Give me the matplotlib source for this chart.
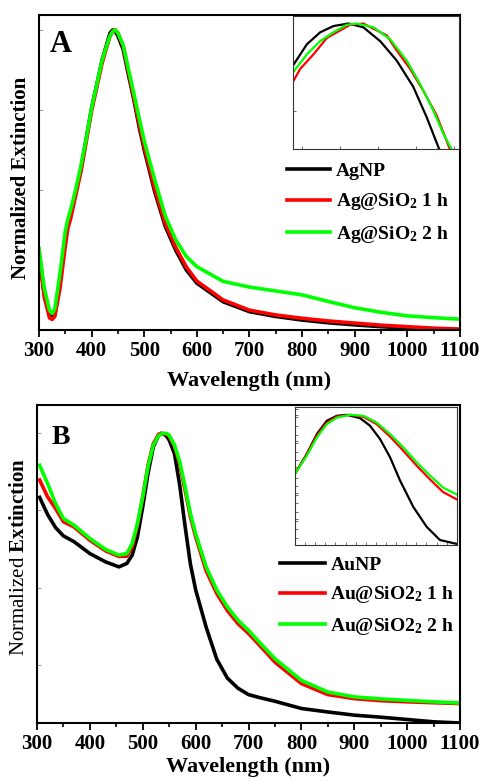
import matplotlib
matplotlib.use("Agg")
import matplotlib.pyplot as plt
import numpy as np
from matplotlib.ticker import MultipleLocator

plt.rcParams['font.family'] = ['Liberation Serif', 'DejaVu Serif']
plt.rcParams['mathtext.fontset'] = 'custom'
plt.rcParams['mathtext.rm'] = 'Liberation Serif'
plt.rcParams['mathtext.bf'] = 'Liberation Serif:bold'
plt.rcParams['mathtext.default'] = 'regular'

# ---- panel A : Ag nanoparticles ----
wl_a = [300, 310, 320, 325, 330, 340, 350, 355, 360, 370, 380, 390, 400, 410, 420, 430, 435,
        440, 445, 450, 460, 470, 480, 490, 500, 520, 540, 560, 580, 600, 650, 700, 750, 800,
        850, 900, 950, 1000, 1050, 1100]
agnp = [0.26, 0.12, 0.05, 0.042, 0.05, 0.16, 0.31, 0.35, 0.39, 0.46, 0.54, 0.64, 0.74, 0.82,
        0.90, 0.96, 0.99, 1.0, 0.995, 0.98, 0.935, 0.85, 0.77, 0.68, 0.60, 0.46, 0.345, 0.265,
        0.20, 0.156, 0.094, 0.061, 0.045, 0.033, 0.024, 0.017, 0.011, 0.006, 0.003, 0.0]
ag_1h = [0.25, 0.11, 0.04, 0.035, 0.045, 0.14, 0.28, 0.34, 0.37, 0.45, 0.53, 0.63, 0.73, 0.81,
         0.89, 0.95, 0.98, 0.995, 1.0, 0.99, 0.945, 0.86, 0.775, 0.69, 0.61, 0.47, 0.355,
         0.275, 0.21, 0.163, 0.10, 0.066, 0.05, 0.039, 0.03, 0.023, 0.016, 0.011, 0.006, 0.003]
ag_2h = [0.272, 0.14, 0.065, 0.055, 0.07, 0.19, 0.33, 0.37, 0.40, 0.47, 0.55, 0.64, 0.74, 0.82,
         0.90, 0.955, 0.98, 0.995, 1.0, 0.99, 0.95, 0.87, 0.79, 0.71, 0.63, 0.50, 0.38, 0.30,
         0.245, 0.211, 0.162, 0.143, 0.13, 0.117, 0.095, 0.074, 0.059, 0.047, 0.041, 0.036]

# inset A (zoom of the plasmon peak)
ins_a_wl_k = [410.0, 415.9, 421.5, 427.1, 433.4, 439.7, 446.8, 453.8, 460.8, 466.4, 471.7]
ins_a_k = [0.933, 0.967, 0.986, 0.996, 1.0, 0.994, 0.972, 0.941, 0.899, 0.851, 0.800]
ins_a_wl_r = [410.0, 413.1, 418.7, 424.3, 429.9, 434.1, 439.7, 445.4, 449.6, 453.8, 459.4,
              465.0, 470.6, 476.2]
ins_a_r = [0.907, 0.928, 0.951, 0.977, 0.989, 0.998, 1.0, 0.989, 0.981, 0.957, 0.928, 0.893,
           0.854, 0.800]
ins_a_wl_g = [410.0, 415.9, 421.5, 427.1, 432.7, 436.9, 444.0, 451.0, 458.0, 463.6, 469.2,
              473.4, 476.9]
ins_a_g = [0.922, 0.951, 0.972, 0.986, 0.998, 1.0, 0.994, 0.975, 0.941, 0.904, 0.862, 0.825,
           0.800]

# ---- panel B : Au nanoparticles ----
wl_b = [305, 320, 335, 350, 370, 400, 430, 455, 470, 480, 490, 500, 510, 520, 530, 535, 540,
        545, 550, 560, 570, 580, 590, 600, 620, 640, 660, 680, 700, 720, 750, 800, 850, 900,
        950, 1000, 1050, 1100]
aunp = [0.779, 0.72, 0.675, 0.646, 0.626, 0.585, 0.556, 0.539, 0.551, 0.58, 0.643, 0.747,
        0.862, 0.954, 0.994, 1.0, 0.998, 0.99, 0.977, 0.93, 0.82, 0.68, 0.55, 0.46, 0.33,
        0.22, 0.155, 0.12, 0.098, 0.088, 0.075, 0.05, 0.038, 0.027, 0.02, 0.012, 0.004, 0.0]
au_1h = [0.839, 0.781, 0.741, 0.695, 0.677, 0.631, 0.594, 0.575, 0.576, 0.608, 0.683, 0.781,
         0.89, 0.965, 0.997, 1.0, 0.999, 0.996, 0.99, 0.955, 0.893, 0.805, 0.713, 0.643,
         0.525, 0.447, 0.388, 0.343, 0.309, 0.27, 0.21, 0.136, 0.098, 0.084, 0.077, 0.073,
         0.07, 0.067]
au_2h = [0.89, 0.827, 0.758, 0.706, 0.683, 0.637, 0.599, 0.58, 0.585, 0.62, 0.689, 0.781,
         0.885, 0.96, 0.992, 0.998, 1.0, 1.0, 0.994, 0.96, 0.902, 0.816, 0.724, 0.654, 0.539,
         0.459, 0.401, 0.355, 0.32, 0.28, 0.222, 0.147, 0.107, 0.09, 0.083, 0.078, 0.073,
         0.069]

# inset B
ins_b_wl_k = [480, 491.8, 501.7, 511.5, 521.4, 531.3, 544.4, 554.2, 564.1, 574.0, 583.8,
              597.0, 610.1, 623.3, 640.0]
ins_b_k = [0.773, 0.850, 0.926, 0.977, 0.996, 1.0, 0.987, 0.958, 0.907, 0.837, 0.748, 0.646,
           0.570, 0.519, 0.504]
ins_b_wl = [480, 491.8, 501.7, 511.5, 521.4, 534.5, 547.7, 560.8, 574.0, 587.1, 600.2, 613.4,
            626.5, 640.0]
ins_b_r = [0.773, 0.847, 0.920, 0.970, 0.993, 1.0, 0.992, 0.964, 0.916, 0.862, 0.805, 0.752,
           0.703, 0.675]
ins_b_g = [0.773, 0.843, 0.913, 0.964, 0.989, 1.0, 0.996, 0.970, 0.926, 0.875, 0.818, 0.767,
           0.720, 0.694]

GREEN = '#00ff00'
RED = '#ff0000'

fig = plt.figure(figsize=(4.85, 7.81), dpi=100)


def style_main(ax, ylim, xpad):
    ax.set_xlim(300, 1100)
    ax.set_ylim(*ylim)
    ax.xaxis.set_major_locator(MultipleLocator(100))
    ax.xaxis.set_minor_locator(MultipleLocator(50))
    ax.tick_params(axis='x', which='major', direction='out', length=5, width=1.3, pad=3,
                   labelsize=15)
    ax.tick_params(axis='x', which='minor', direction='out', length=3, width=1.2)
    ax.tick_params(axis='y', which='both', direction='in', length=3, width=0.6,
                   color='#888888', labelleft=False)
    ax.set_yticks(np.arange(0.2, 1.1, 0.267))
    for lab in ax.get_xticklabels():
        lab.set_fontweight('bold')
    for s in ax.spines.values():
        s.set_linewidth(1.5)
    ax.set_xlabel('Wavelength (nm)', fontsize=16, fontweight='bold', labelpad=xpad)


def style_inset(ax):
    ax.tick_params(which='both', direction='in', length=2, width=0.6, color='#555555',
                   labelleft=False, labelbottom=False)
    for s in ax.spines.values():
        s.set_linewidth(0.8)
        s.set_color('#333333')


# ---------- A ----------
axA = fig.add_axes([0.0804, 0.5775, 0.868, 0.4033])
axA.plot(wl_a, agnp, color='black', lw=2.6, label='AgNP')
axA.plot(wl_a, ag_1h, color=RED, lw=2.6, label='Ag@SiO$_2$ 1 h')
axA.plot(wl_a, ag_2h, color=GREEN, lw=2.6, label='Ag@SiO$_2$ 2 h')
style_main(axA, (0, 1.05), 7)
axA.set_ylabel('Normalized Extinction', fontsize=15, fontweight='bold')
axA.yaxis.set_label_coords(-0.018, 0.484)
axA.text(0.026, 0.952, 'A', transform=axA.transAxes, fontsize=22, fontweight='bold',
         va='top', ha='left')
axA.legend(loc='upper left', bbox_to_anchor=(0.589, 0.533), frameon=False,
           prop={'weight': 'bold', 'size': 14}, handlelength=2.2, handletextpad=0.3,
           labelspacing=0.6, borderpad=0, borderaxespad=0)

insA = fig.add_axes([0.604, 0.8092, 0.342, 0.1703])
insA.plot(ins_a_wl_k, ins_a_k, color='black', lw=1.6)
insA.plot(ins_a_wl_r, ins_a_r, color=RED, lw=1.6)
insA.plot(ins_a_wl_g, ins_a_g, color=GREEN, lw=1.6)
insA.set_xlim(410, 480)
insA.set_ylim(0.80, 1.012)
insA.set_xticks([414, 430, 446, 462, 478])
insA.set_yticks([0.86, 0.94])
style_inset(insA)

# ---------- B ----------
axB = fig.add_axes([0.0763, 0.0743, 0.8722, 0.4071])
axB.plot(wl_b, aunp, color='black', lw=2.6, label='AuNP')
axB.plot(wl_b, au_1h, color=RED, lw=2.6, label='Au@SiO2$_2$ 1 h')
axB.plot(wl_b, au_2h, color=GREEN, lw=2.6, label='Au@SiO2$_2$ 2 h')
style_main(axB, (0, 1.098), 2)
axB.set_ylabel('Normalized $\\mathbf{Extinction}$', fontsize=15)
axB.yaxis.set_label_coords(-0.02, 0.522)
axB.text(0.035, 0.937, 'B', transform=axB.transAxes, fontsize=20, fontweight='bold',
         va='top', ha='left')
axB.legend(loc='upper left', bbox_to_anchor=(0.574, 0.525), frameon=False,
           prop={'weight': 'bold', 'size': 14}, handlelength=2.3, handletextpad=0.3,
           labelspacing=0.55, borderpad=0, borderaxespad=0)

insB = fig.add_axes([0.608, 0.3022, 0.334, 0.1767])
insB.plot(ins_b_wl_k, ins_b_k, color='black', lw=1.6)
insB.plot(ins_b_wl, ins_b_r, color=RED, lw=1.6)
insB.plot(ins_b_wl, ins_b_g, color=GREEN, lw=1.6)
insB.set_xlim(480, 640)
insB.set_ylim(0.5, 1.03)
insB.xaxis.set_major_locator(MultipleLocator(40))
insB.xaxis.set_minor_locator(MultipleLocator(10))
insB.yaxis.set_major_locator(MultipleLocator(0.1))
insB.yaxis.set_minor_locator(MultipleLocator(0.033))
style_inset(insB)

fig.savefig('out.png', dpi=100)
